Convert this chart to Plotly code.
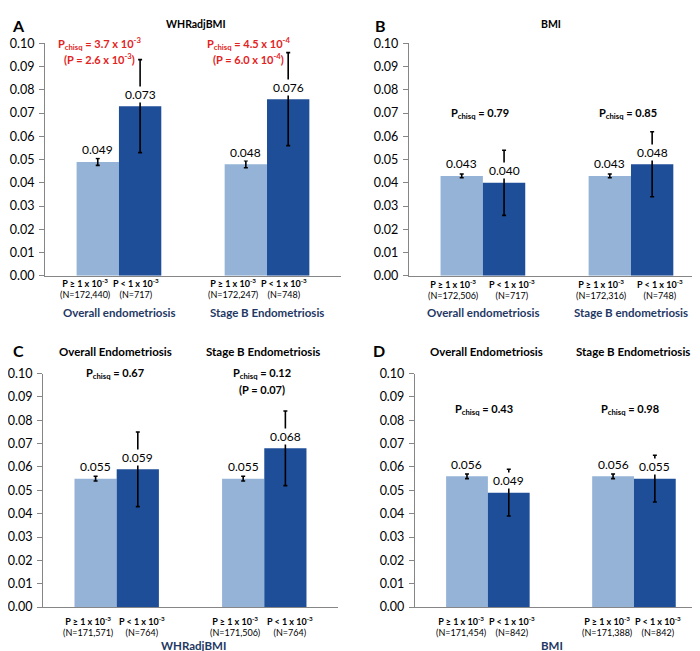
import plotly.graph_objects as go

W, H = 700, 651

FONT = "Lato, 'Liberation Sans', Arial, sans-serif"
LIGHT = "#95B3D7"
DARK = "#1F4E99"
NAVY = "#1F3864"
RED = "#E3231D"
AXIS = "#868686"

# ---------------- data ----------------
groups = [0, 1]
y_ticks = [0.00, 0.01, 0.02, 0.03, 0.04, 0.05, 0.06, 0.07, 0.08, 0.09, 0.10]

light_A = [0.049, 0.048]
light_err_A = [0.0015, 0.0015]
dark_A = [0.073, 0.076]
dark_err_A = [0.020, 0.020]
n_light_A = ["172,440", "172,247"]
n_dark_A = ["717", "748"]
group_A = ["Overall endometriosis", "Stage B Endometriosis"]
pchisq_A = ["3.7 x 10<sup>-3</sup>", "4.5 x 10<sup>-4</sup>"]
p_A = ["2.6 x 10<sup>-3</sup>", "6.0 x 10<sup>-4</sup>"]

light_B = [0.043, 0.043]
light_err_B = [0.0008, 0.0008]
dark_B = [0.040, 0.048]
dark_err_B = [0.014, 0.014]
n_light_B = ["172,506", "172,316"]
n_dark_B = ["717", "748"]
group_B = ["Overall endometriosis", "Stage B endometriosis"]
pchisq_B = ["0.79", "0.85"]
p_B = [None, None]

light_C = [0.055, 0.055]
light_err_C = [0.001, 0.001]
dark_C = [0.059, 0.068]
dark_err_C = [0.016, 0.016]
n_light_C = ["171,571", "171,506"]
n_dark_C = ["764", "764"]
group_C = ["Overall Endometriosis", "Stage B Endometriosis"]
pchisq_C = ["0.67", "0.12"]
p_C = [None, "0.07"]

light_D = [0.056, 0.056]
light_err_D = [0.001, 0.001]
dark_D = [0.049, 0.055]
dark_err_D = [0.010, 0.010]
n_light_D = ["171,454", "171,388"]
n_dark_D = ["842", "842"]
group_D = ["Overall Endometriosis", "Stage B Endometriosis"]
pchisq_D = ["0.43", "0.98"]
p_D = [None, None]

light_label = "P ≥ 1 x 10<sup>-3</sup>"
dark_label = "P < 1 x 10<sup>-3</sup>"

# ---------------- layout helpers ----------------
def px(x):
    return x / W

def py(y):
    return 1 - y / H

BARGAP = 0.428
OFF = (1 - BARGAP) / 4

panels = [
    dict(letter="A", title="WHRadjBMI", title_x=187, title_y=8, letter_x=9, letter_y=10,
         light=light_A, light_err=light_err_A, dark=dark_A, dark_err=dark_err_A,
         n_light=n_light_A, n_dark=n_dark_A, groups=group_A, pchisq=pchisq_A, p=p_A,
         xdom=(35, 332), ydom=(28, 266), pcolor=RED, p_y=(0.1, 0.0937), p_xshift=-19,
         groups_top=False, bottom_title=None, rows=-13, row3=-37, lab_shift=(-13, -4)),
    dict(letter="B", title="BMI", title_x=543, title_y=8, letter_x=372, letter_y=10,
         light=light_B, light_err=light_err_B, dark=dark_B, dark_err=dark_err_B,
         n_light=n_light_B, n_dark=n_dark_B, groups=group_B, pchisq=pchisq_B, p=p_B,
         xdom=(400, 697), ydom=(28, 266), pcolor="black", p_y=(0.0697, None), p_xshift=-3,
         groups_top=False, bottom_title=None, rows=-13.5, row3=-37, lab_shift=(-8.5, 7.5)),
    dict(letter="C", title=None, title_x=None, title_y=None, letter_x=9, letter_y=342,
         light=light_C, light_err=light_err_C, dark=dark_C, dark_err=dark_err_C,
         n_light=n_light_C, n_dark=n_dark_C, groups=group_C, pchisq=pchisq_C, p=p_C,
         xdom=(33, 329), ydom=(366, 605), pcolor="black", p_y=(0.1, 0.0933), p_xshift=-2,
         groups_top=True, bottom_title=("WHRadjBMI", 184, 644), rows=-19, row3=None,
         lab_shift=(-8, 4.5)),
    dict(letter="D", title=None, title_x=None, title_y=None, letter_x=370, letter_y=342,
         light=light_D, light_err=light_err_D, dark=dark_D, dark_err=dark_err_D,
         n_light=n_light_D, n_dark=n_dark_D, groups=group_D, pchisq=pchisq_D, p=p_D,
         xdom=(406, 699), ydom=(366, 605), pcolor="black", p_y=(0.0844, None), p_xshift=-4,
         groups_top=True, bottom_title=("BMI", 544, 644), rows=-19, row3=None,
         lab_shift=(-6, 3)),
]

fig = go.Figure()
annotations = []

for k, pn in enumerate(panels, start=1):
    xa = "x" if k == 1 else f"x{k}"
    ya = "y" if k == 1 else f"y{k}"
    xkey = "xaxis" if k == 1 else f"xaxis{k}"
    ykey = "yaxis" if k == 1 else f"yaxis{k}"

    fig.add_trace(go.Bar(
        x=groups, y=pn["light"], marker=dict(color=LIGHT, line=dict(width=0)),
        error_y=dict(type="data", array=pn["light_err"], visible=True, color="black",
                     thickness=1.6, width=2),
        xaxis=xa, yaxis=ya, hoverinfo="skip"))
    fig.add_trace(go.Bar(
        x=groups, y=pn["dark"], marker=dict(color=DARK, line=dict(width=0)),
        error_y=dict(type="data", array=pn["dark_err"], visible=True, color="black",
                     thickness=1.6, width=2),
        xaxis=xa, yaxis=ya, hoverinfo="skip"))

    x0, x1 = pn["xdom"]
    y0, y1 = pn["ydom"]
    fig.update_layout(**{
        xkey: dict(domain=[px(x0), px(x1)], range=[-0.5, 1.5], anchor=ya,
                   showline=True, linecolor=AXIS, linewidth=1, showticklabels=False,
                   ticks="", showgrid=False, zeroline=False, fixedrange=True),
        ykey: dict(domain=[py(y1), py(y0)], range=[0, 0.1], anchor=xa,
                   tickvals=y_ticks, tickformat=".2f", ticks="outside", ticklen=5,
                   tickcolor=AXIS, showline=True, linecolor=AXIS, linewidth=1,
                   showgrid=False, zeroline=False, ticklabelstandoff=2,
                   tickfont=dict(family=FONT, size=12.5, color="black"), fixedrange=True),
    })

    # panel letter / title
    annotations.append(dict(xref="paper", yref="paper", x=px(pn["letter_x"]),
                            y=py(pn["letter_y"]), text=f"<b>{pn['letter']}</b>", showarrow=False,
                            xanchor="center", yanchor="middle",
                            font=dict(family=FONT, size=16, color="black")))
    if pn["title"]:
        annotations.append(dict(xref="paper", yref="paper", x=px(pn["title_x"]),
                                y=py(pn["title_y"]),
                                text=f"<b>{pn['title']}</b>", showarrow=False, xanchor="center",
                                yanchor="middle", font=dict(family=FONT, size=10.5, color="black")))
    if pn["bottom_title"]:
        t, bx, by = pn["bottom_title"]
        annotations.append(dict(xref="paper", yref="paper", x=px(bx), y=py(by),
                                text=f"<b>{t}</b>", showarrow=False, xanchor="center",
                                yanchor="middle", font=dict(family=FONT, size=11.5, color=NAVY)))

    for i in groups:
        # value labels
        for val, sgn in ((pn["light"][i], -1), (pn["dark"][i], 1)):
            annotations.append(dict(xref=xa, yref=ya, x=i + sgn * OFF, y=val,
                                    text=f"{val:.3f}", showarrow=False, xanchor="center",
                                    yanchor="middle", yshift=12, bgcolor="white", borderpad=0,
                                    font=dict(family=FONT, size=12, color="black")))
        # category labels (two lines per column)
        for lab, n, sgn, xs in ((light_label, pn["n_light"][i], -1, pn["lab_shift"][0]),
                                (dark_label, pn["n_dark"][i], 1, pn["lab_shift"][1])):
            annotations.append(dict(xref=xa, yref=ya, x=i + sgn * OFF, y=0, xshift=xs,
                                    yshift=pn["rows"], text=f"<b>{lab}</b><br>(N={n})",
                                    showarrow=False, xanchor="center", yanchor="middle",
                                    align="center",
                                    font=dict(family=FONT, size=9, color="black")))
        # group names
        if pn["groups_top"]:
            annotations.append(dict(xref=xa, yref="paper", x=i, y=py(343), xshift=-1,
                                    text=f"<b>{pn['groups'][i]}</b>", showarrow=False,
                                    xanchor="center", yanchor="middle",
                                    font=dict(family=FONT, size=11.5, color="black")))
        else:
            annotations.append(dict(xref=xa, yref=ya, x=i, y=0, yshift=pn["row3"],
                                    text=f"<b>{pn['groups'][i]}</b>", showarrow=False,
                                    xanchor="center", yanchor="middle",
                                    font=dict(family=FONT, size=11.5, color=NAVY)))
        # p-values
        annotations.append(dict(xref=xa, yref=ya, x=i, y=pn["p_y"][0], xshift=pn["p_xshift"],
                                text=f"<b>P<sub>chisq</sub> = {pn['pchisq'][i]}</b>",
                                showarrow=False, xanchor="center", yanchor="middle",
                                font=dict(family=FONT, size=11, color=pn["pcolor"])))
        if pn["p"][i]:
            annotations.append(dict(xref=xa, yref=ya, x=i, y=pn["p_y"][1], xshift=pn["p_xshift"],
                                    text=f"<b>(P = {pn['p'][i]})</b>",
                                    showarrow=False, xanchor="center", yanchor="middle",
                                    font=dict(family=FONT, size=11, color=pn["pcolor"])))

fig.update_layout(
    width=W, height=H, margin=dict(l=0, r=0, t=0, b=0),
    paper_bgcolor="white", plot_bgcolor="white",
    barmode="group", bargap=BARGAP, bargroupgap=0, showlegend=False,
    annotations=annotations, font=dict(family=FONT),
)

fig.write_html("out.html")
